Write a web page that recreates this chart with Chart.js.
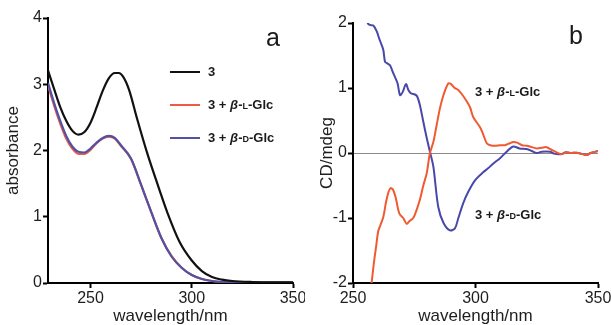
<!DOCTYPE html>
<html>
<head>
<meta charset="utf-8">
<script src="https://cdn.jsdelivr.net/npm/chart.js@4"></script>
<style>
  body { margin: 0; background: #fff; }
  #wrap { position: relative; width: 611px; height: 325px; overflow: hidden; font-family: "Liberation Sans", Arial, sans-serif; color: #1a1a1a; }
  canvas { position: absolute; top: 0; }
  .lbl { position: absolute; font-weight: bold; font-size: 13px; white-space: nowrap; line-height: 14px; }
  .sc { font-size: 9px; }
  .key { position: absolute; height: 2px; width: 30px; }
  .panel { position: absolute; font-size: 25px; line-height: 26px; }
</style>
</head>
<body>
<div id="wrap">
  <canvas id="absChart" width="305" height="325" style="left:0"></canvas>
  <canvas id="cdChart" width="306" height="325" style="left:305px"></canvas>

  <div class="panel" style="left:266px; top:24px">a</div>
  <div class="panel" style="left:569px; top:22px">b</div>

  <div class="key" style="left:170px; top:71px; background:#111"></div>
  <div class="lbl" style="left:208px; top:65px">3</div>
  <div class="key" style="left:170px; top:104px; background:#ee5a48"></div>
  <div class="lbl" style="left:208px; top:98px">3 + <i>β</i>-<span class="sc">L</span>-Glc</div>
  <div class="key" style="left:170px; top:137px; background:#5252a4"></div>
  <div class="lbl" style="left:208px; top:131px">3 + <i>β</i>-<span class="sc">D</span>-Glc</div>

  <div class="lbl" style="left:475px; top:85px">3 + <i>β</i>-<span class="sc">L</span>-Glc</div>
  <div class="lbl" style="left:475px; top:208px">3 + <i>β</i>-<span class="sc">D</span>-Glc</div>
</div>
<script>
// panel a: absorbance
const absNm3 = [229, 232, 235, 238, 241, 244, 247, 250, 253, 256, 259, 262, 264, 266, 269, 273, 278, 283, 288, 294, 300, 305, 310, 315, 320, 330, 340, 350];
const abs3 = [3.21, 2.93, 2.66, 2.45, 2.30, 2.24, 2.28, 2.42, 2.65, 2.90, 3.09, 3.17, 3.17, 3.12, 2.92, 2.48, 1.96, 1.50, 1.06, 0.62, 0.34, 0.18, 0.09, 0.05, 0.03, 0.015, 0.01, 0.01];

const absNmGlc = [229, 232, 235, 238, 241, 244, 247, 250, 253, 256, 259, 262, 265, 270, 275, 280, 285, 290, 295, 300, 305, 310, 315, 320, 330, 350];
const absLGlc = [2.98, 2.68, 2.41, 2.18, 2.03, 1.95, 1.95, 2.01, 2.11, 2.18, 2.21, 2.18, 2.07, 1.87, 1.48, 1.07, 0.68, 0.41, 0.23, 0.12, 0.06, 0.03, 0.015, 0.008, 0.005, 0.005];
const absDGlc = [3.02, 2.72, 2.45, 2.22, 2.06, 1.98, 1.97, 2.03, 2.12, 2.19, 2.22, 2.19, 2.08, 1.88, 1.48, 1.07, 0.68, 0.40, 0.23, 0.12, 0.06, 0.03, 0.015, 0.008, 0.005, 0.005];

const absTicksX = [250, 300, 350];

// panel b: CD
const cdNmD = [255.8, 256.9, 258.3, 259.7, 260.7, 261.7, 262.4, 263.1, 264, 265.1, 266.2, 267.1, 268.2, 269.2, 270.3, 271.6, 272.6, 273.6, 275.3, 276.2, 277.3, 278.7, 280.1, 281.4, 282.8, 284.8, 287, 289.6, 291.6, 293, 295, 297, 299.8, 303, 305, 307.3, 310, 313, 315.4, 318, 320.9, 323, 325, 327, 330.4, 332, 334.5, 337, 339, 341.3, 343, 345.4, 347, 350];
const cdDGlc = [2.0, 1.97, 1.96, 1.87, 1.76, 1.66, 1.58, 1.40, 1.38, 1.35, 1.25, 1.17, 1.07, 0.89, 0.94, 1.06, 0.97, 0.92, 0.90, 0.87, 0.74, 0.48, 0.23, 0.02, -0.21, -0.83, -1.08, -1.19, -1.16, -1.0, -0.77, -0.6, -0.42, -0.3, -0.24, -0.16, -0.08, 0.03, 0.10, 0.07, 0.06, 0.03, 0.0, 0.02, 0.02, -0.01, -0.02, 0.01, 0.0, 0.005, -0.01, -0.03, 0.0, 0.03];

const cdNmL = [257, 258.5, 259.5, 260.3, 261, 262.4, 263.5, 264.5, 265.3, 266.4, 267.5, 268.5, 269.2, 270.5, 271.9, 273, 274.6, 276, 277.3, 278.7, 280.1, 281.4, 282.8, 284, 285.5, 287, 288.9, 290, 291.5, 293, 294.5, 296, 297.8, 299.1, 301.8, 303, 304.6, 306, 308, 310, 312, 314, 315.4, 317, 319, 320.9, 323, 325, 327, 329, 331, 333.1, 335, 337, 339, 341.3, 343, 345.4, 347, 350];
const cdLGlc = [-2.2, -1.7, -1.42, -1.2, -1.13, -0.98, -0.75, -0.6, -0.54, -0.57, -0.7, -0.88, -0.95, -1.0, -1.09, -1.05, -1.0, -0.87, -0.72, -0.5, -0.31, 0.0, 0.17, 0.4, 0.69, 0.9, 1.07, 1.06, 1.0, 0.97, 0.9, 0.82, 0.7, 0.55, 0.40, 0.3, 0.15, 0.12, 0.11, 0.12, 0.12, 0.15, 0.17, 0.16, 0.12, 0.11, 0.09, 0.07, 0.08, 0.09, 0.05, 0.01, -0.02, 0.01, 0.0, 0.005, -0.01, -0.03, 0.0, 0.03];

function pts(xs, ys) {
  return xs.map((x, i) => ({ x: x, y: ys[i] }));
}

const FONT = '"Liberation Sans", Arial, sans-serif';
const tickFont = { family: FONT, size: 16 };
const titleFont = { family: FONT, size: 17 };

function axisX(min) {
  return {
    type: 'linear',
    min: min,
    max: 350,
    afterBuildTicks: s => { s.ticks = absTicksX.map(v => ({ value: v })); },
    afterFit: s => { s.height = 42; s.paddingLeft = 0; s.paddingRight = 0; },
    border: { display: true, color: '#000', width: 2 },
    grid: { display: true, drawOnChartArea: false, drawTicks: true, tickLength: 5, tickWidth: 2, tickColor: '#000' },
    ticks: { font: tickFont, color: '#1e1e1e', padding: 1, maxRotation: 0 },
    title: { display: true, text: 'wavelength/nm', font: Object.assign({ lineHeight: 1 }, titleFont), color: '#1e1e1e', padding: { top: 0, bottom: 0 } }
  };
}

// Absorbance chart
new Chart(document.getElementById('absChart').getContext('2d'), {
  type: 'line',
  data: {
    datasets: [
      { label: '3', data: pts(absNm3, abs3), borderColor: '#111', borderWidth: 2.2 },
      { label: '3 + β-D-Glc', data: pts(absNmGlc, absDGlc), borderColor: '#5252a4', borderWidth: 2.2 },
      { label: '3 + β-L-Glc', data: pts(absNmGlc, absLGlc), borderColor: '#ee5a48', borderWidth: 2.2 }
    ]
  },
  options: {
    responsive: false,
    animation: false,
    devicePixelRatio: 1,
    layout: { padding: { top: 18, right: 12, left: 0, bottom: 0 } },
    elements: { point: { radius: 0 }, line: { cubicInterpolationMode: 'monotone' } },
    plugins: { legend: { display: false }, tooltip: { enabled: false } },
    scales: {
      x: axisX(229),
      y: {
        min: 0,
        max: 4,
        afterFit: s => { s.width = 48; },
        border: { display: true, color: '#000', width: 2 },
        grid: { display: true, drawOnChartArea: false, drawTicks: true, tickLength: 5, tickWidth: 2, tickColor: '#000' },
        ticks: { stepSize: 1, font: tickFont, color: '#1e1e1e', padding: 1 },
        title: { display: true, text: 'absorbance', font: titleFont, color: '#1e1e1e', padding: { top: 3, bottom: 0 } }
      }
    }
  }
});

// CD chart
new Chart(document.getElementById('cdChart').getContext('2d'), {
  type: 'line',
  data: {
    datasets: [
      { label: '3 + β-L-Glc', data: pts(cdNmL, cdLGlc), borderColor: '#f05a30', borderWidth: 2, tension: 0.3 },
      { label: '3 + β-D-Glc', data: pts(cdNmD, cdDGlc), borderColor: '#4848aa', borderWidth: 2, tension: 0.3 }
    ]
  },
  options: {
    responsive: false,
    animation: false,
    devicePixelRatio: 1,
    layout: { padding: { top: 23, right: 13, left: 0, bottom: 0 } },
    elements: { point: { radius: 0 } },
    plugins: { legend: { display: false }, tooltip: { enabled: false } },
    scales: {
      x: axisX(250),
      y: {
        min: -2,
        max: 2,
        afterFit: s => { s.width = 48; },
        border: { display: true, color: '#000', width: 2 },
        grid: {
          display: true,
          drawOnChartArea: true,
          drawTicks: true,
          tickLength: 5,
          tickWidth: 2,
          tickColor: '#000',
          lineWidth: 1,
          color: c => (c.tick && c.tick.value === 0 ? '#8a8a8a' : 'rgba(0,0,0,0)')
        },
        ticks: { stepSize: 1, font: tickFont, color: '#1e1e1e', padding: 1 },
        title: { display: true, text: 'CD/mdeg', font: titleFont, color: '#1e1e1e', padding: { top: 12, bottom: 0 } }
      }
    }
  }
});
</script>
</body>
</html>
